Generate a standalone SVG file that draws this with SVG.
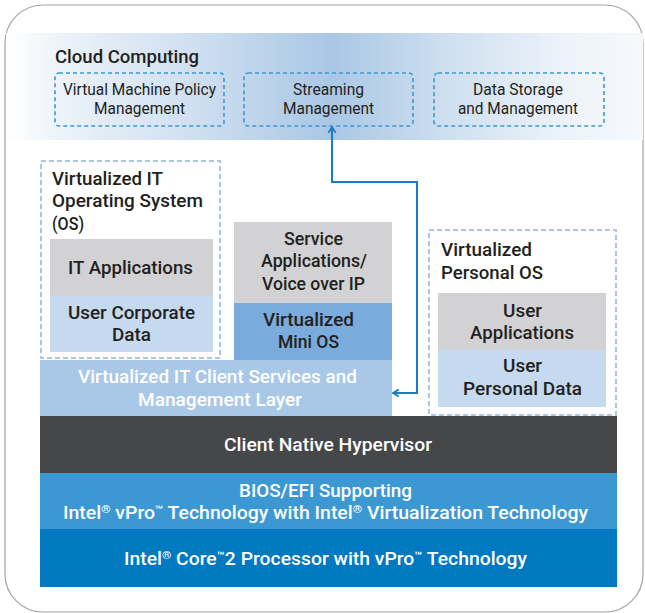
<svg xmlns="http://www.w3.org/2000/svg" width="645" height="613" viewBox="0 0 645 613">
<defs>
  <linearGradient id="band" x1="0" y1="0" x2="1" y2="0">
    <stop offset="0" stop-color="#ffffff"/>
    <stop offset="0.1" stop-color="#eaf1f8"/>
    <stop offset="0.3" stop-color="#cfdff0"/>
    <stop offset="0.51" stop-color="#a9c7e5"/>
    <stop offset="0.7" stop-color="#d0e0f0"/>
    <stop offset="0.88" stop-color="#edf3f9"/>
    <stop offset="1" stop-color="#f6f9fc"/>
  </linearGradient>
  <marker id="chev" viewBox="0 0 10 10" refX="8.5" refY="5" markerWidth="9" markerHeight="9" markerUnits="userSpaceOnUse" orient="auto-start-reverse">
    <path d="M2,1 L8.5,5 L2,9" fill="none" stroke="#1a7cc4" stroke-width="2"/>
  </marker>
  <style>
    text { font-family: Roboto, "Liberation Sans", sans-serif; fill: #231f20; }
    .h { font-size: 18px; font-weight: 500; }
    .c { font-size: 16px; font-weight: 400; text-anchor: middle; }
    .m { text-anchor: middle; }
    .w { fill: #ffffff; }
    .cloudbox { fill: none; stroke: #3c98d3; stroke-width: 1.6; stroke-dasharray: 4 3; }
    .vbox { fill: none; stroke: #a9c8e8; stroke-width: 2; stroke-dasharray: 5 3; }
    .conn { fill: none; stroke: #1a7cc4; stroke-width: 2; }
    .sup { font-size: 11px; }
    .tm { font-size: 12px; }
  </style>
</defs>

<rect x="5" y="5" width="638" height="607" rx="38" ry="38" fill="#ffffff" stroke="#a3a3a3" stroke-width="1.2"/>

<g id="cloud">
  <rect x="6" y="33" width="637" height="107" fill="url(#band)"/>
  <text class="h" x="55" y="63" textLength="144" lengthAdjust="spacingAndGlyphs">Cloud Computing</text>
</g>

<g id="vm-policy">
  <rect class="cloudbox" x="55" y="73" width="169" height="53" rx="4"/>
  <text class="c" x="139.5" y="95" textLength="153" lengthAdjust="spacingAndGlyphs">Virtual Machine Policy</text>
  <text class="c" x="139.5" y="114" textLength="91" lengthAdjust="spacingAndGlyphs">Management</text>
</g>

<g id="streaming">
  <rect class="cloudbox" x="244" y="73" width="169" height="53" rx="4"/>
  <text class="c" x="328.5" y="95" textLength="71" lengthAdjust="spacingAndGlyphs">Streaming</text>
  <text class="c" x="328.5" y="114" textLength="91" lengthAdjust="spacingAndGlyphs">Management</text>
</g>

<g id="data-storage">
  <rect class="cloudbox" x="434" y="73" width="170" height="53" rx="4"/>
  <text class="c" x="518" y="95" textLength="90" lengthAdjust="spacingAndGlyphs">Data Storage</text>
  <text class="c" x="518" y="114" textLength="120" lengthAdjust="spacingAndGlyphs">and Management</text>
</g>

<g id="virtualized-it-os">
  <rect class="vbox" x="41" y="161" width="179" height="197"/>
  <text class="h" x="52" y="185" textLength="111" lengthAdjust="spacingAndGlyphs">Virtualized IT</text>
  <text class="h" x="52" y="207" textLength="151" lengthAdjust="spacingAndGlyphs">Operating System</text>
  <text class="h" x="52" y="230" textLength="32" lengthAdjust="spacingAndGlyphs">(OS)</text>
</g>

<g id="it-applications">
  <rect x="50" y="239" width="163" height="57" fill="#d2d2d4"/>
  <text class="h m" x="130.5" y="274" textLength="125" lengthAdjust="spacingAndGlyphs">IT Applications</text>
</g>

<g id="user-corporate-data">
  <rect x="50" y="296" width="163" height="56" fill="#c5d9ef"/>
  <text class="h m" x="131.5" y="319" textLength="127" lengthAdjust="spacingAndGlyphs">User Corporate</text>
  <text class="h m" x="131.5" y="341" textLength="39" lengthAdjust="spacingAndGlyphs">Data</text>
</g>

<g id="service-apps">
  <rect x="234" y="222" width="158" height="81" fill="#d2d2d4"/>
  <text class="h m" x="313.5" y="245" textLength="59" lengthAdjust="spacingAndGlyphs">Service</text>
  <text class="h m" x="314" y="267" textLength="106" lengthAdjust="spacingAndGlyphs">Applications/</text>
  <text class="h m" x="313.5" y="290" textLength="103" lengthAdjust="spacingAndGlyphs">Voice over IP</text>
</g>

<g id="mini-os">
  <rect x="234" y="303" width="158" height="57" fill="#79acdc"/>
  <text class="h m" x="308.5" y="326" textLength="91" lengthAdjust="spacingAndGlyphs">Virtualized</text>
  <text class="h m" x="308.5" y="348" textLength="61" lengthAdjust="spacingAndGlyphs">Mini OS</text>
</g>

<g id="client-services">
  <rect x="40" y="360" width="352" height="56" fill="#a9c8e8"/>
  <text class="h m w" x="217.5" y="383" textLength="279" lengthAdjust="spacingAndGlyphs">Virtualized IT Client Services and</text>
  <text class="h m w" x="220" y="406" textLength="164" lengthAdjust="spacingAndGlyphs">Management Layer</text>
</g>

<g id="virtualized-personal-os">
  <rect class="vbox" x="429" y="230" width="187" height="185"/>
  <text class="h" x="441" y="256" textLength="91" lengthAdjust="spacingAndGlyphs">Virtualized</text>
  <text class="h" x="441" y="279" textLength="102" lengthAdjust="spacingAndGlyphs">Personal OS</text>
</g>

<g id="user-applications">
  <rect x="438" y="293" width="168" height="57" fill="#d2d2d4"/>
  <text class="h m" x="522.5" y="317" textLength="39" lengthAdjust="spacingAndGlyphs">User</text>
  <text class="h m" x="522" y="339" textLength="104" lengthAdjust="spacingAndGlyphs">Applications</text>
</g>

<g id="user-personal-data">
  <rect x="438" y="350" width="168" height="57" fill="#c5d9ef"/>
  <text class="h m" x="522.5" y="372" textLength="39" lengthAdjust="spacingAndGlyphs">User</text>
  <text class="h m" x="522.5" y="395" textLength="119" lengthAdjust="spacingAndGlyphs">Personal Data</text>
</g>

<g id="hypervisor">
  <rect x="40" y="416" width="577" height="57" fill="#464749"/>
  <text class="h m w" x="328" y="451" textLength="208" lengthAdjust="spacingAndGlyphs">Client Native Hypervisor</text>
</g>

<g id="bios">
  <rect x="40" y="473" width="577" height="56" fill="#3c98d3"/>
  <text class="h m w" x="325.5" y="497" textLength="173" lengthAdjust="spacingAndGlyphs">BIOS/EFI Supporting</text>
  <text class="h m w" x="325.5" y="519" textLength="525" lengthAdjust="spacingAndGlyphs">Intel<tspan class="sup" dy="-6">®</tspan><tspan dy="6"> vPro</tspan><tspan class="tm" dy="-5">™</tspan><tspan dy="5">  Technology with Intel</tspan><tspan class="sup" dy="-6">®</tspan><tspan dy="6"> Virtualization Technology</tspan></text>
</g>

<g id="processor">
  <rect x="40" y="529" width="577" height="58" fill="#0079c1"/>
  <text class="h m w" x="325.5" y="565" textLength="403" lengthAdjust="spacingAndGlyphs">Intel<tspan class="sup" dy="-6">®</tspan><tspan dy="6"> Core</tspan><tspan class="tm" dy="-5">™</tspan><tspan dy="5">2 Processor with vPro</tspan><tspan class="tm" dy="-5">™</tspan><tspan dy="5">  Technology</tspan></text>
</g>

<g id="connectors">
  <polyline class="conn" points="332,127 332,182 417,182 417,393 393,393" marker-start="url(#chev)" marker-end="url(#chev)"/>
</g>
</svg>
